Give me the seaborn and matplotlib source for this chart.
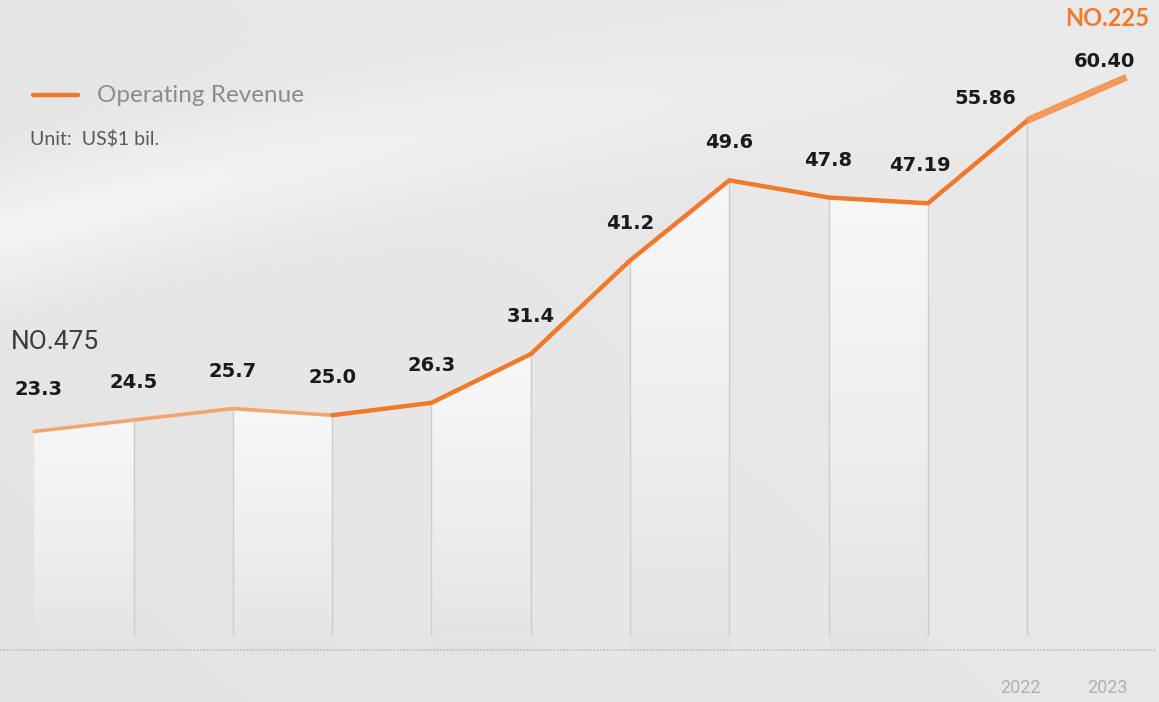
import numpy as np
import pandas as pd
import matplotlib
matplotlib.use("Agg")
import matplotlib.pyplot as plt
from matplotlib.lines import Line2D
from matplotlib.colors import LinearSegmentedColormap
import seaborn as sns

# ---------------- data ----------------
years = [2012, 2013, 2014, 2015, 2016, 2017, 2018, 2019, 2020, 2021, 2022, 2023]
revenue = [23.3, 24.5, 25.7, 25.0, 26.3, 31.4, 41.2, 49.6, 47.8, 47.19, 55.86, 60.40]
value_labels = ["23.3", "24.5", "25.7", "25.0", "26.3", "31.4", "41.2", "49.6",
                "47.8", "47.19", "55.86", "60.40"]
shown_year_labels = ["2022", "2023"]
series_name = "Operating Revenue"
unit_text = "Unit:  US$1 bil."
rank_start = "NO.475"
rank_end = "NO.225"

df = pd.DataFrame({"idx": np.arange(len(years)), "year": years, "revenue": revenue})

# ---------------- figure ----------------
W, H, DPI = 1159, 702, 100
sns.set_theme(style="white")
plt.rcParams["font.family"] = ["DejaVu Sans"]
fig = plt.figure(figsize=(W / DPI, H / DPI), dpi=DPI)

# background gradient with soft light swoosh
bg_ax = fig.add_axes([0, 0, 1, 1], zorder=0)
yy, xx = np.mgrid[0:H, 0:W]
base = 0.9 - 0.008 * (yy / H) + 0.012 * (xx / W)
curve = 235 - 0.28 * xx + 0.00012 * xx ** 2
d = yy - curve
swoosh = 0.05 * np.exp(-(d / 60.0) ** 2) * np.exp(-(xx / 700.0) ** 2)
bg = np.clip(base + swoosh, 0, 1)
bg_ax.imshow(bg, cmap="gray", vmin=0, vmax=1, aspect="auto", extent=[0, W, H, 0])
bg_ax.set_axis_off()

ax = fig.add_axes([0, 0, 1, 1], zorder=1)
ax.patch.set_alpha(0)

# coordinate mapping (data -> pixels)
px_per_unit = 9.55
zero_px = 654  # from top
x0_px, step_px = 34.2, 99.3
xlim = (-x0_px / step_px, (W - x0_px) / step_px)
ylim = (-(H - zero_px) / px_per_unit, zero_px / px_per_unit)

xs = df["idx"].to_numpy()
ys = df["revenue"].to_numpy()

# white columns (alternate intervals) with vertical gradient
col_cmap = LinearSegmentedColormap.from_list("col", ["#e3e3e3", "#efefef", "#f7f7f7"])
grad = np.linspace(0, 1, 256).reshape(-1, 1)
for i in range(0, 10, 2):
    poly = ax.fill_between(xs[i:i + 2], 0, ys[i:i + 2], color="none", lw=0)
    im = ax.imshow(grad, cmap=col_cmap, aspect="auto", origin="lower",
                   extent=[xs[i], xs[i + 1], 0, max(ys[i:i + 2])], zorder=1)
    im.set_clip_path(poly.get_paths()[0], transform=ax.transData)

# thin vertical separators
for i in range(1, 11):
    ax.plot([xs[i], xs[i]], [2, ys[i]], color="#cdcdcd", lw=1.0, zorder=1.5)

ax.set_xlim(*xlim)
ax.set_ylim(*ylim)

# dotted baseline
ax.axhline(0.4, xmin=0, xmax=1155 / W, color="#bdbdbd", lw=1.2, ls=(0, (1, 1)), zorder=1.5)

# the line
sns.lineplot(data=df.iloc[0:4], x="idx", y="revenue", color="#f4a46e", lw=2.6,
             ax=ax, zorder=3, legend=False)
sns.lineplot(data=df.iloc[3:11], x="idx", y="revenue", color="#f07a2c", lw=3.2,
             ax=ax, zorder=3, legend=False)
sns.lineplot(data=df.iloc[10:12], x="idx", y="revenue", color="#f29a5c", lw=5.0,
             ax=ax, zorder=3, legend=False, solid_capstyle="butt")

# value labels
for i, (x, y, t) in enumerate(zip(xs, ys, value_labels)):
    dx, dy = 0, 27
    if i == 0:
        dx, dy = 3, 30
    if i == 9:
        dx = -6
    if i == 10:
        dx, dy = -30, 16
    if i == 11:
        dx, dy = -16, 11
    ax.annotate(t, (x, y), xytext=(dx, dy), textcoords="offset points",
                ha="center", va="center", fontsize=14, fontweight="bold",
                color="#1a1a1a", zorder=5)

# year ticks (only last two shown)
for i, lab in zip([10, 11], shown_year_labels):
    ax.text(xs[i] - (0.07 if i == 10 else 0.19), -3.6, lab, ha="center", va="center",
            fontsize=13, color="#b0b0b0", fontstretch="condensed",
            family=["Liberation Sans Narrow", "Roboto", "DejaVu Sans"])

ax.set_axis_off()

# legend & annotations
fig.add_artist(Line2D([33 / W, 78 / W], [1 - 95 / H] * 2, color="#f07a2c", lw=3.2))
fig.text(97 / W, 1 - 96 / H, series_name, ha="left", va="center", fontsize=17.5,
         color="#8c8c8c", family=["Lato", "DejaVu Sans"])
fig.text(30 / W, 1 - 139 / H, unit_text, ha="left", va="center", fontsize=14,
         color="#595959", family=["Lato", "DejaVu Sans"])
fig.text(11 / W, 1 - 342 / H, rank_start, ha="left", va="center", fontsize=19,
         color="#3d3d3d", family=["Roboto", "DejaVu Sans"])
fig.text(1149 / W, 1 - 18 / H, rank_end, ha="right", va="center", fontsize=17,
         color="#f07a2c", fontweight="bold", family=["Lato", "DejaVu Sans"])

fig.savefig("out.png", dpi=DPI)
